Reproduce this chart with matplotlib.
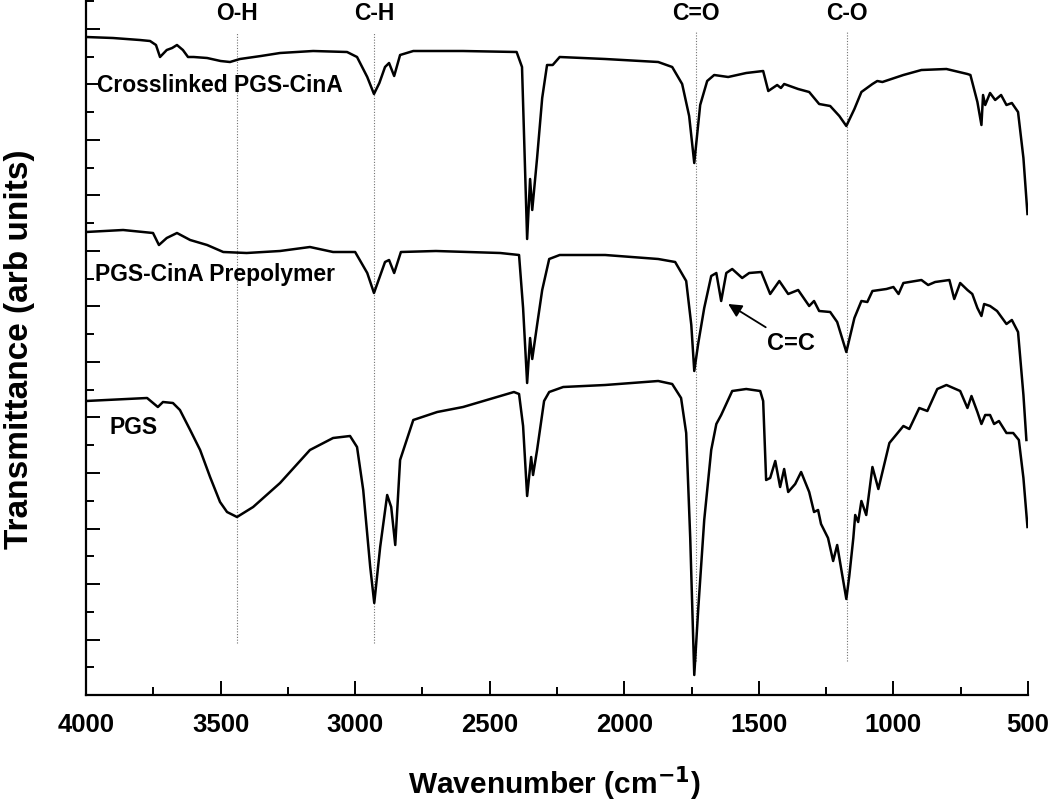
import matplotlib
matplotlib.use("Agg")
import matplotlib.pyplot as plt
from matplotlib.ticker import MultipleLocator, NullFormatter

# FTIR spectra, transmittance in arbitrary (offset) units
wn_cross = [4000, 3900, 3800, 3762, 3740, 3725, 3700, 3680, 3662, 3640, 3621, 3600, 3550, 3500,
            3465, 3428, 3350, 3279, 3156, 3030, 2993, 2955, 2930, 2910, 2889, 2874, 2855, 2833,
            2784, 2600, 2400, 2380, 2361, 2350, 2342, 2324, 2305, 2287, 2266, 2240, 2071, 1874,
            1822, 1785, 1759, 1740, 1718, 1692, 1666, 1614, 1547, 1484, 1465, 1432, 1418, 1406,
            1354, 1313, 1276, 1235, 1201, 1175, 1145, 1119, 1078, 1060, 1041, 963, 896, 803, 725,
            714, 688, 673, 667, 659, 641, 622, 600, 580, 560, 537, 517, 502]
t_cross = [658, 657, 655, 654, 650, 638, 645, 647, 650, 645, 638, 638, 637, 634,
           633, 636, 639, 642, 644, 643, 638, 618, 601, 612, 628, 632, 619, 640,
           644, 644, 643, 628, 456, 516, 485, 537, 597, 630, 630, 638, 636, 633,
           628, 611, 579, 532, 590, 614, 620, 618, 622, 624, 604, 610, 607, 611,
           606, 603, 591, 589, 579, 569, 586, 603, 611, 614, 613, 620, 625, 626, 621,
           620, 593, 570, 600, 590, 602, 595, 600, 590, 592, 583, 537, 481]

wn_prepoly = [4000, 3862, 3751, 3729, 3700, 3662, 3613, 3550, 3490, 3403, 3279, 3168, 3082, 3000,
              2955, 2930, 2889, 2874, 2855, 2830, 2700, 2461, 2391, 2376, 2361, 2350, 2342, 2324,
              2305, 2279, 2240, 2071, 1874, 1811, 1770, 1751, 1740, 1725, 1703, 1677, 1658, 1640,
              1621, 1599, 1562, 1536, 1491, 1458, 1424, 1391, 1354, 1313, 1295, 1276, 1235, 1209,
              1175, 1145, 1119, 1097, 1078, 1026, 1000, 981, 963, 896, 871, 845, 792, 774, 752,
              725, 707, 688, 673, 663, 641, 615, 580, 560, 537, 517, 506]
t_prepoly = [463, 465, 462, 450, 457, 462, 455, 450, 443, 442, 444, 448, 443, 443,
             422, 402, 433, 435, 422, 443, 444, 442, 440, 387, 312, 357, 336, 370,
             405, 436, 440, 440, 436, 433, 414, 370, 324, 352, 387, 419, 422, 394,
             422, 426, 417, 422, 423, 401, 414, 401, 405, 389, 394, 384, 383, 373,
             343, 377, 394, 393, 404, 406, 408, 401, 412, 415, 410, 413, 415, 396, 412,
             405, 401, 387, 379, 391, 389, 384, 371, 375, 363, 300, 255]

wn_pgs = [4000, 3773, 3733, 3714, 3677, 3651, 3613, 3576, 3539, 3502, 3476, 3439, 3379, 3279,
          3168, 3082, 3019, 2993, 2970, 2944, 2929, 2907, 2881, 2866, 2851, 2833, 2784, 2695,
          2599, 2410, 2391, 2376, 2361, 2346, 2339, 2324, 2298, 2279, 2227, 2071, 1874, 1822,
          1789, 1770, 1755, 1740, 1725, 1703, 1677, 1658, 1640, 1599, 1547, 1495, 1484, 1473,
          1458, 1439, 1421, 1406, 1391, 1365, 1343, 1313, 1295, 1280, 1269, 1243, 1224, 1209,
          1194, 1175, 1164, 1149, 1142, 1131, 1119, 1101, 1078, 1056, 1015, 963, 941, 904, 874,
          837, 803, 752, 725, 710, 688, 673, 659, 641, 626, 608, 580, 555, 534, 517, 502]
t_pgs = [294, 297, 288, 293, 292, 285, 265, 245, 218, 193, 183, 178, 188, 212,
         245, 257, 259, 248, 205, 128, 92, 148, 200, 188, 150, 235, 275, 283,
         288, 303, 301, 269, 199, 238, 220, 245, 294, 303, 308, 310, 314, 311,
         297, 262, 157, 20, 87, 175, 245, 271, 280, 304, 306, 304, 294, 215,
         217, 234, 208, 226, 203, 211, 223, 203, 183, 185, 171, 157, 134, 150,
         126, 96, 119, 157, 180, 173, 194, 180, 228, 206, 252, 269, 266, 287, 284,
         306, 310, 304, 287, 299, 283, 271, 280, 280, 271, 274, 262, 262, 255, 217, 168]

series_names = ["Crosslinked PGS-CinA", "PGS-CinA Prepolymer", "PGS"]
name_pos = [(3959, 610), (3967, 420), (3911, 267)]

band_names = ["O-H", "C-H", "C=O", "C-O"]
band_wn = [3440, 2930, 1735, 1173]
band_ymin = [52, 52, 34, 34]

fig = plt.figure(figsize=(10.5, 8.05), dpi=100)
ax = fig.add_axes([86 / 1050, 110 / 805, 942 / 1050, 695 / 805])

font = ["Liberation Sans", "DejaVu Sans"]

for i in range(len(band_wn)):
    ax.vlines(band_wn[i], band_ymin[i], 663, colors="0.45", linestyles=(0, (1, 1.5)), linewidth=0.8)
    ax.text(band_wn[i], 682, band_names[i], ha="center", va="center",
            fontsize=16.5, fontweight="bold", family=font)

ax.plot(wn_cross, t_cross, color="black", lw=1.8)
ax.plot(wn_prepoly, t_prepoly, color="black", lw=1.8)
ax.plot(wn_pgs, t_pgs, color="black", lw=1.8)

for name, (x, y) in zip(series_names, name_pos):
    ax.text(x, y, name, ha="left", va="center", fontsize=16.5, fontweight="bold", family=font)

ax.annotate("C=C", xy=(1614, 391), xytext=(1469, 352), ha="left", va="center",
            fontsize=17, fontweight="bold", family=font,
            arrowprops=dict(arrowstyle="-|>", color="black", lw=1.3, mutation_scale=20,
                            shrinkA=2, shrinkB=0))

ax.set_xlim(4000, 500)
ax.set_ylim(0, 695)
ax.xaxis.set_major_locator(MultipleLocator(500))
ax.xaxis.set_minor_locator(MultipleLocator(250))
ax.yaxis.set_major_locator(MultipleLocator(55.5))
ax.yaxis.set_minor_locator(MultipleLocator(27.75))
ax.yaxis.set_major_formatter(NullFormatter())

ax.spines["top"].set_visible(False)
ax.spines["right"].set_visible(False)
for s in ["left", "bottom"]:
    ax.spines[s].set_linewidth(1.6)

ax.tick_params(which="major", direction="in", length=10, width=1.4)
ax.tick_params(which="minor", direction="in", length=5.5, width=1.4)
ax.tick_params(axis="x", which="major", pad=13)
for lab in ax.get_xticklabels():
    lab.set_family(font)
    lab.set_fontweight("bold")
    lab.set_fontsize(18.5)

ax.set_xlabel("Wavenumber (cm$^{\\mathbf{-1}}$)", fontsize=21.5, fontweight="bold", family=font,
              va="center")
ax.xaxis.set_label_coords(0.497, -0.127)
ax.set_ylabel("Transmittance (arb units)", fontsize=24, fontweight="bold", family=font,
              va="center")
ax.yaxis.set_label_coords(-0.071, 0.497)

fig.savefig("out.png", dpi=100)
